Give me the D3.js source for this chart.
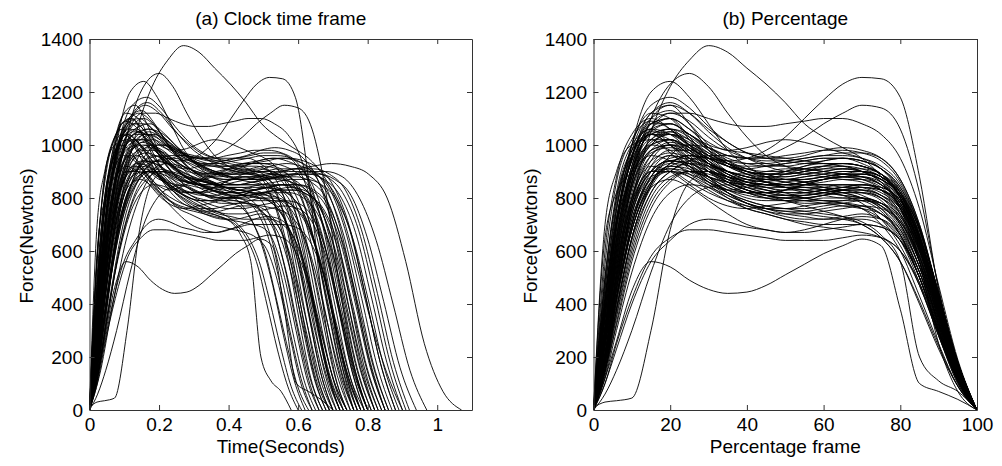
<!DOCTYPE html>
<html lang="en">
<head>
<meta charset="UTF-8">
<title>Force curves</title>
<script src="https://d3js.org/d3.v7.min.js"></script>
<style>
  body { margin: 0; background: #fff; }
  text { font-family: "Liberation Sans", Arial, sans-serif; fill: #000; }
</style>
</head>
<body>
<svg id="chart" width="1002" height="466"></svg>
<script>
const pctGrid = [0, 3, 6, 10, 15, 20, 25, 30, 35, 40, 45, 50, 55, 60, 65, 70, 75, 80, 85, 90, 95, 100];

// duration of each trial (seconds)
const durations = [
  0.90, 0.80, 0.78, 0.74, 0.80, 0.70, 0.72, 0.85, 0.62, 0.64,
  0.66, 0.67, 0.68, 0.69, 0.70, 0.70, 0.71, 0.72, 0.73, 0.74,
  0.75, 0.76, 0.76, 0.77, 0.78, 0.79, 0.80, 0.80, 0.81, 0.82,
  0.83, 0.84, 0.85, 0.86, 0.87, 0.88, 0.90, 0.92, 0.97, 1.07,
  0.74, 0.66, 0.60, 0.58, 0.78, 0.72, 0.82, 0.68, 0.76, 0.64,
  0.63, 0.65, 0.67, 0.69, 0.70, 0.71, 0.72, 0.73, 0.74, 0.75,
  0.76, 0.77, 0.78, 0.79, 0.80, 0.81, 0.82, 0.83, 0.84, 0.85,
  0.86, 0.88, 0.89, 0.91, 0.94, 0.69, 0.73, 0.77, 0.61, 0.79
];

// force (N) of each trial at the pctGrid positions
const forces = [
  [0, 150, 420, 780, 1050, 1220, 1320, 1375, 1350, 1290, 1230, 1160, 1080, 1030, 990, 950, 880, 760, 560, 330, 140, 0],
  [0, 200, 520, 850, 1100, 1230, 1270, 1220, 1120, 1030, 960, 920, 900, 890, 880, 870, 840, 760, 600, 380, 160, 0],
  [0, 300, 700, 1000, 1200, 1240, 1180, 1080, 980, 920, 880, 860, 850, 850, 840, 830, 800, 720, 560, 340, 140, 0],
  [0, 180, 430, 680, 850, 930, 960, 950, 940, 950, 980, 1030, 1100, 1170, 1230, 1255, 1250, 1180, 880, 450, 150, 0],
  [0, 150, 380, 650, 850, 960, 1000, 990, 960, 950, 960, 990, 1030, 1080, 1120, 1150, 1140, 1060, 820, 460, 170, 0],
  [0, 120, 260, 450, 560, 540, 490, 455, 440, 445, 470, 510, 550, 590, 620, 645, 620, 380, 100, 70, 40, 0],
  [10, 30, 35, 45, 300, 680, 860, 900, 880, 860, 850, 840, 840, 830, 820, 800, 760, 680, 520, 300, 120, 0],
  [0, 650, 820, 900, 1000, 1050, 1020, 960, 900, 870, 850, 850, 860, 870, 880, 880, 860, 800, 650, 420, 180, 0],
  [0, 250, 600, 900, 1080, 1100, 1030, 950, 900, 870, 860, 850, 840, 830, 810, 780, 720, 620, 470, 280, 110, 0],
  [0, 200, 500, 800, 980, 1020, 970, 900, 850, 820, 800, 790, 790, 800, 800, 790, 750, 660, 500, 300, 120, 0],
  [0, 350, 700, 950, 1120, 1150, 1080, 980, 920, 890, 870, 860, 850, 840, 830, 820, 790, 700, 540, 330, 130, 0],
  [0, 180, 420, 700, 900, 960, 940, 880, 820, 780, 760, 750, 750, 760, 770, 770, 740, 660, 500, 290, 110, 0],
  [0, 280, 620, 900, 1040, 1060, 1000, 920, 860, 830, 820, 830, 850, 870, 880, 870, 830, 740, 560, 320, 120, 0],
  [0, 140, 350, 600, 800, 880, 900, 880, 850, 820, 800, 790, 780, 780, 780, 770, 740, 670, 520, 310, 120, 0],
  [0, 400, 750, 1000, 1120, 1100, 1020, 940, 890, 860, 850, 840, 830, 820, 810, 800, 780, 720, 580, 360, 140, 0],
  [0, 220, 520, 820, 980, 1000, 950, 880, 820, 780, 750, 730, 720, 720, 730, 740, 720, 650, 500, 300, 110, 0],
  [0, 300, 650, 920, 1080, 1120, 1090, 1030, 980, 950, 930, 920, 910, 900, 890, 880, 850, 780, 620, 380, 150, 0],
  [0, 160, 400, 680, 860, 920, 910, 870, 830, 800, 790, 790, 800, 810, 820, 820, 800, 730, 580, 350, 140, 0],
  [0, 250, 560, 860, 1020, 1050, 1000, 930, 870, 830, 810, 800, 800, 810, 830, 840, 830, 770, 620, 380, 150, 0],
  [0, 120, 300, 520, 720, 820, 850, 840, 810, 780, 760, 740, 730, 720, 720, 720, 700, 640, 500, 300, 110, 0],
  [0, 350, 700, 960, 1100, 1130, 1080, 1000, 940, 900, 880, 880, 890, 900, 910, 900, 870, 790, 630, 390, 160, 0],
  [0, 200, 480, 780, 960, 1010, 990, 940, 890, 860, 850, 850, 860, 870, 880, 890, 870, 800, 640, 400, 160, 0],
  [0, 450, 780, 980, 1060, 1040, 980, 910, 860, 830, 810, 800, 790, 780, 770, 760, 740, 680, 540, 330, 130, 0],
  [0, 180, 450, 740, 920, 980, 980, 950, 920, 900, 890, 890, 900, 910, 920, 910, 880, 810, 650, 400, 160, 0],
  [0, 260, 580, 880, 1060, 1100, 1060, 990, 930, 890, 860, 840, 830, 820, 810, 800, 770, 700, 560, 350, 140, 0],
  [0, 150, 380, 650, 840, 920, 940, 920, 880, 850, 830, 820, 820, 830, 840, 850, 840, 790, 650, 410, 170, 0],
  [0, 320, 680, 950, 1100, 1150, 1120, 1060, 1010, 970, 950, 940, 930, 930, 930, 920, 890, 820, 660, 410, 170, 0],
  [0, 200, 460, 740, 900, 940, 920, 870, 820, 790, 770, 760, 760, 770, 780, 790, 780, 730, 600, 380, 150, 0],
  [0, 240, 540, 840, 1000, 1040, 1020, 970, 930, 900, 890, 900, 920, 940, 950, 940, 910, 830, 660, 410, 160, 0],
  [0, 130, 330, 580, 780, 870, 900, 890, 860, 830, 810, 800, 800, 810, 820, 820, 800, 740, 600, 380, 150, 0],
  [0, 380, 720, 980, 1120, 1160, 1120, 1050, 990, 950, 920, 900, 890, 880, 870, 860, 830, 760, 610, 380, 150, 0],
  [0, 220, 500, 800, 960, 1000, 980, 930, 880, 840, 820, 810, 810, 820, 830, 830, 810, 750, 610, 380, 150, 0],
  [0, 280, 600, 880, 1020, 1060, 1040, 990, 950, 930, 920, 920, 930, 940, 950, 940, 910, 840, 680, 430, 170, 0],
  [0, 170, 420, 700, 880, 950, 960, 930, 890, 860, 840, 830, 830, 840, 850, 850, 830, 770, 620, 390, 160, 0],
  [0, 300, 640, 920, 1060, 1080, 1040, 980, 930, 900, 890, 890, 900, 920, 930, 920, 890, 820, 660, 420, 170, 0],
  [0, 150, 360, 620, 820, 900, 930, 920, 900, 880, 870, 870, 880, 890, 900, 900, 880, 820, 680, 440, 180, 0],
  [0, 200, 460, 760, 940, 1000, 1000, 970, 930, 900, 880, 870, 870, 880, 890, 890, 870, 810, 670, 430, 180, 0],
  [0, 250, 560, 860, 1010, 1040, 1010, 960, 920, 890, 880, 880, 890, 900, 910, 910, 890, 830, 680, 440, 180, 0],
  [0, 180, 420, 700, 880, 940, 950, 930, 900, 880, 870, 870, 880, 890, 900, 900, 880, 800, 640, 400, 150, 0],
  [0, 150, 380, 650, 850, 930, 960, 950, 930, 910, 900, 900, 910, 920, 930, 920, 890, 800, 560, 250, 70, 0],
  [0, 100, 250, 420, 580, 650, 680, 680, 670, 660, 650, 640, 640, 640, 650, 660, 650, 600, 480, 290, 110, 0],
  [0, 100, 230, 400, 560, 640, 700, 720, 710, 690, 680, 670, 670, 680, 690, 700, 690, 640, 500, 300, 110, 0],
  [0, 200, 480, 760, 920, 960, 920, 860, 810, 780, 760, 750, 740, 730, 720, 700, 650, 560, 400, 230, 90, 0],
  [0, 300, 650, 900, 1000, 980, 920, 860, 820, 790, 770, 760, 750, 740, 730, 710, 660, 560, 200, 110, 70, 0],
  [0, 60, 150, 300, 520, 700, 800, 840, 850, 840, 830, 820, 820, 830, 840, 850, 840, 790, 650, 420, 170, 0],
  [0, 500, 800, 960, 1040, 1000, 940, 880, 840, 820, 810, 810, 820, 830, 840, 840, 820, 760, 610, 370, 140, 0],
  [0, 420, 760, 1000, 1150, 1180, 1140, 1070, 1010, 970, 950, 950, 960, 980, 990, 980, 950, 870, 700, 440, 180, 0],
  [0, 200, 460, 720, 880, 930, 920, 880, 840, 820, 820, 830, 850, 870, 890, 900, 880, 800, 620, 360, 130, 0],
  [0, 280, 620, 900, 1060, 1120, 1120, 1100, 1080, 1070, 1070, 1080, 1090, 1100, 1100, 1080, 1040, 950, 760, 470, 190, 0],
  [0, 180, 420, 680, 860, 920, 900, 850, 800, 760, 740, 720, 700, 690, 680, 670, 650, 600, 470, 280, 100, 0],
  [0, 500, 820, 1000, 1060, 1000, 930, 880, 860, 850, 840, 820, 800, 790, 780, 760, 700, 600, 430, 250, 90, 0],
  [0, 420, 700, 880, 960, 940, 890, 850, 830, 840, 860, 870, 860, 840, 820, 800, 760, 660, 500, 290, 110, 0],
  [0, 350, 640, 900, 1050, 1080, 1040, 1000, 980, 970, 960, 950, 940, 930, 920, 900, 860, 760, 580, 340, 120, 0],
  [0, 300, 560, 800, 920, 900, 850, 800, 770, 760, 770, 780, 790, 790, 780, 760, 720, 640, 480, 280, 100, 0],
  [0, 550, 860, 1020, 1090, 1060, 1000, 950, 920, 910, 920, 930, 940, 950, 950, 930, 890, 800, 620, 370, 140, 0],
  [0, 260, 520, 780, 900, 900, 860, 820, 790, 770, 760, 760, 770, 780, 790, 800, 780, 700, 540, 320, 120, 0],
  [0, 380, 700, 950, 1080, 1100, 1060, 1010, 980, 990, 1010, 1020, 1010, 990, 970, 950, 910, 820, 640, 390, 150, 0],
  [0, 200, 420, 680, 840, 870, 840, 790, 740, 700, 680, 670, 680, 700, 720, 730, 720, 660, 520, 310, 110, 0],
  [0, 480, 800, 980, 1040, 1000, 950, 900, 870, 860, 870, 890, 910, 920, 920, 900, 860, 780, 610, 370, 140, 0],
  [0, 320, 600, 860, 1000, 1020, 990, 940, 900, 880, 860, 840, 820, 810, 800, 800, 780, 710, 560, 340, 130, 0],
  [0, 250, 500, 760, 900, 940, 930, 900, 880, 870, 880, 900, 920, 930, 930, 920, 890, 810, 640, 390, 150, 0],
  [0, 600, 880, 1040, 1100, 1060, 990, 930, 890, 870, 860, 850, 850, 850, 850, 840, 810, 740, 590, 360, 140, 0],
  [0, 300, 580, 840, 980, 1000, 970, 920, 880, 850, 830, 810, 800, 790, 790, 790, 770, 710, 570, 350, 130, 0],
  [0, 420, 720, 960, 1080, 1080, 1040, 990, 960, 950, 950, 960, 970, 980, 980, 970, 940, 860, 690, 430, 170, 0],
  [0, 240, 480, 740, 880, 900, 880, 840, 800, 770, 750, 740, 740, 750, 760, 770, 760, 710, 580, 360, 140, 0],
  [0, 360, 660, 900, 1020, 1020, 980, 930, 900, 890, 900, 910, 910, 900, 890, 880, 850, 780, 630, 390, 150, 0],
  [0, 280, 540, 800, 940, 970, 950, 910, 870, 840, 820, 810, 810, 820, 830, 840, 830, 780, 640, 400, 160, 0],
  [0, 460, 760, 960, 1050, 1040, 1000, 960, 940, 930, 930, 940, 950, 960, 960, 950, 920, 850, 690, 430, 170, 0],
  [0, 200, 440, 700, 860, 900, 890, 860, 830, 810, 800, 800, 810, 820, 830, 830, 810, 760, 630, 400, 160, 0],
  [0, 380, 680, 920, 1040, 1060, 1030, 980, 940, 910, 890, 870, 860, 850, 850, 850, 830, 770, 630, 400, 160, 0],
  [0, 300, 580, 840, 970, 990, 970, 930, 900, 880, 870, 870, 870, 880, 890, 890, 870, 810, 660, 420, 170, 0],
  [0, 420, 720, 940, 1040, 1040, 1000, 960, 930, 920, 920, 930, 940, 950, 950, 940, 910, 840, 690, 440, 180, 0],
  [0, 260, 500, 760, 900, 940, 930, 900, 870, 850, 840, 840, 850, 860, 870, 870, 850, 790, 650, 420, 170, 0],
  [0, 340, 620, 880, 1000, 1020, 990, 950, 920, 900, 890, 890, 900, 910, 910, 900, 880, 820, 680, 440, 180, 0],
  [0, 220, 460, 720, 870, 910, 900, 880, 860, 850, 850, 860, 870, 880, 890, 890, 870, 810, 650, 410, 160, 0],
  [0, 150, 320, 560, 760, 860, 900, 900, 880, 860, 850, 850, 860, 870, 880, 880, 850, 770, 600, 360, 130, 0],
  [0, 700, 900, 1000, 1020, 970, 910, 860, 830, 820, 820, 830, 840, 840, 830, 810, 770, 690, 540, 320, 120, 0],
  [0, 180, 380, 640, 820, 900, 940, 960, 960, 950, 940, 940, 950, 960, 970, 970, 950, 870, 700, 430, 170, 0],
  [0, 400, 720, 940, 1040, 1020, 960, 900, 860, 830, 810, 790, 770, 750, 730, 700, 650, 560, 410, 240, 90, 0],
  [0, 280, 540, 780, 900, 910, 880, 830, 790, 760, 740, 720, 710, 700, 700, 700, 690, 640, 520, 320, 120, 0]
];

const timeTicks = [0, 0.2, 0.4, 0.6, 0.8, 1];
const pctTicks = [0, 20, 40, 60, 80, 100];
const forceTicks = [0, 200, 400, 600, 800, 1000, 1200, 1400];
const titles = ["(a) Clock time frame", "(b) Percentage"];
const xLabels = ["Time(Seconds)", "Percentage frame"];
const yLabel = "Force(Newtons)";

const svg = d3.select("#chart");
const plotTop = 39, plotBottom = 410;
const fontSize = 19;

const panels = [
  { left: 89.5, right: 472, domain: [0, 1.1], ticks: timeTicks, fmt: d3.format("~g"),
    xOf: (i, j) => pctGrid[j] / 100 * durations[i] },
  { left: 593.5, right: 977, domain: [0, 100], ticks: pctTicks, fmt: d3.format("d"),
    xOf: (i, j) => pctGrid[j] }
];

panels.forEach((p, k) => {
  const x = d3.scaleLinear().domain(p.domain).range([p.left, p.right]);
  const y = d3.scaleLinear().domain([0, 1400]).range([plotBottom, plotTop]);
  const g = svg.append("g");

  // curves
  const line = d3.line()
    .x(d => x(d[0]))
    .y(d => y(d[1]))
    .curve(d3.curveMonotoneX);

  forces.forEach((vals, i) => {
    const pts = vals.map((v, j) => [p.xOf(i, j), v]);
    g.append("path")
      .attr("d", line(pts))
      .attr("fill", "none")
      .attr("stroke", "#000")
      .attr("stroke-width", 0.9);
  });

  // frame + inward ticks on all four sides
  const axB = g.append("g").attr("transform", `translate(0,${plotBottom})`)
    .call(d3.axisBottom(x).tickValues(p.ticks).tickFormat(p.fmt).tickSize(-5).tickSizeOuter(0).tickPadding(7.5));
  const axT = g.append("g").attr("transform", `translate(0,${plotTop})`)
    .call(d3.axisTop(x).tickValues(p.ticks).tickFormat("").tickSize(-5).tickSizeOuter(0));
  const axL = g.append("g").attr("transform", `translate(${p.left},0)`)
    .call(d3.axisLeft(y).tickValues(forceTicks).tickFormat(d3.format("d")).tickSize(-5).tickSizeOuter(0).tickPadding(6.5));
  const axR = g.append("g").attr("transform", `translate(${p.right},0)`)
    .call(d3.axisRight(y).tickValues(forceTicks).tickFormat("").tickSize(-5).tickSizeOuter(0));

  [axB, axT, axL, axR].forEach(a => {
    a.selectAll("path, line").attr("stroke", "#333").attr("stroke-width", 1);
    a.selectAll("text").attr("font-size", fontSize).attr("font-family", null).attr("fill", "#000");
  });

  const cx = (p.left + p.right) / 2;
  g.append("text").attr("x", cx).attr("y", 25).attr("text-anchor", "middle")
    .attr("font-size", fontSize).text(titles[k]);
  g.append("text").attr("x", cx).attr("y", 453).attr("text-anchor", "middle")
    .attr("font-size", fontSize).text(xLabels[k]);
  g.append("text")
    .attr("transform", `translate(${p.left - 57},236) rotate(-90)`)
    .attr("text-anchor", "middle")
    .attr("font-size", fontSize).text(yLabel);
});
</script>
</body>
</html>
